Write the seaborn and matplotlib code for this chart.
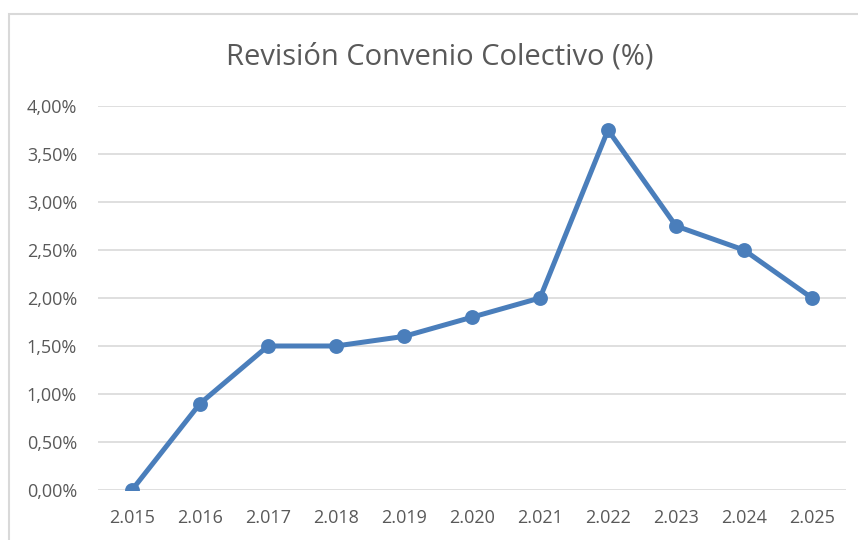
import matplotlib
matplotlib.use("Agg")
import matplotlib.pyplot as plt
import seaborn as sns
import pandas as pd
from matplotlib.patches import Rectangle
from matplotlib.ticker import FuncFormatter

years = ["2.015", "2.016", "2.017", "2.018", "2.019", "2.020",
         "2.021", "2.022", "2.023", "2.024", "2.025"]
revision = [0.0, 0.9, 1.5, 1.5, 1.6, 1.8, 2.0, 3.75, 2.75, 2.5, 2.0]

df = pd.DataFrame({"year": years, "revision": revision})

sns.set_theme(style="white")
plt.rcParams["font.family"] = ["Open Sans", "DejaVu Sans"]

fig = plt.figure(figsize=(8.58, 5.40), dpi=100)
ax = fig.add_axes([0.1142, 0.0926, 0.8718, 0.7111])

line_color = "#4A7EBB"
sns.pointplot(data=df, x="year", y="revision", color=line_color,
              markers="o", linestyles="-", linewidth=3.6, markersize=8,
              errorbar=None, ax=ax)

ax.set_ylim(0, 4)
ax.set_xlim(-0.5, len(years) - 0.5)
ax.set_yticks([0, 0.5, 1, 1.5, 2, 2.5, 3, 3.5, 4])
ax.yaxis.set_major_formatter(FuncFormatter(lambda v, p: f"{v:.2f}%".replace(".", ",")))
ax.grid(axis="y", color="#D9D9D9", linewidth=1.2)
ax.set_axisbelow(True)
for s in ax.spines.values():
    s.set_visible(False)
ax.tick_params(axis="both", length=0, labelsize=13, colors="#595959")
ax.tick_params(axis="x", pad=14)
ax.tick_params(axis="y", pad=15)
ax.set_xlabel("")
ax.set_ylabel("")

fig.text(0.513, 0.895, "Revisión Convenio Colectivo (%)", ha="center", va="center",
         fontsize=21, color="#595959")

fig.patches.append(Rectangle((9 / 858, -0.1), 1.2, (540 - 14) / 540 + 0.1,
                             transform=fig.transFigure, fill=False,
                             edgecolor="#D9D9D9", linewidth=1.5))

fig.savefig("out.png", dpi=100)
